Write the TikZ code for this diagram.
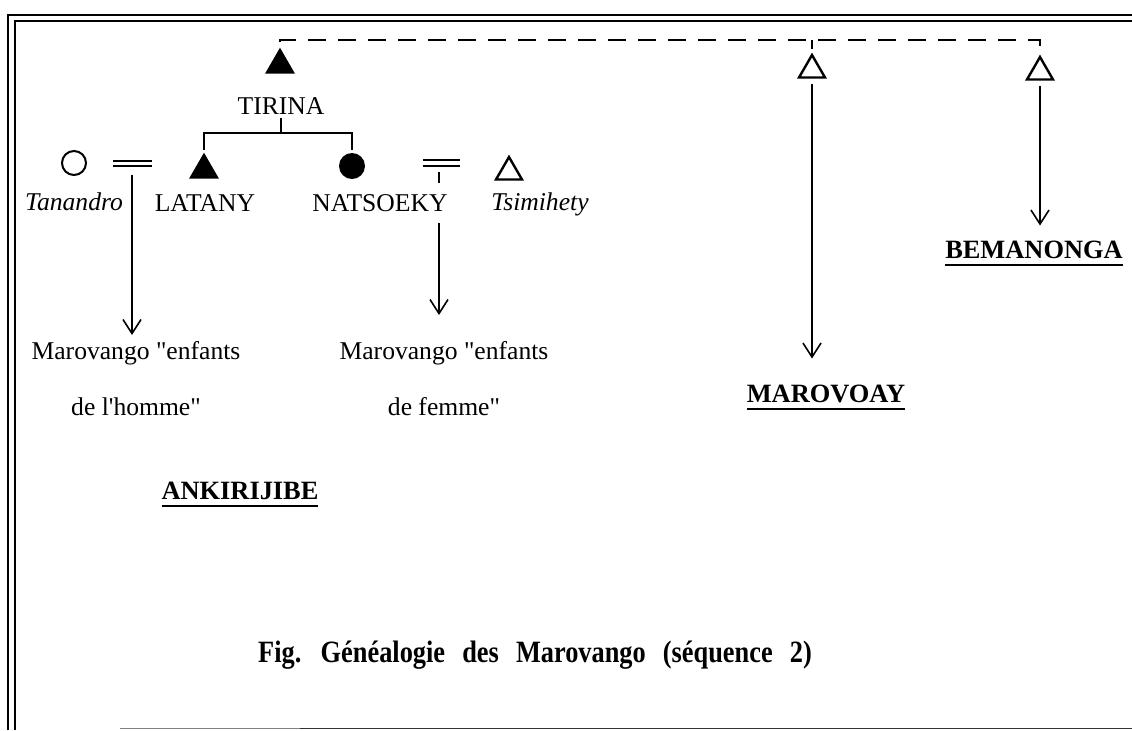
\documentclass[tikz,border=0pt]{standalone}
\usepackage{fontspec}
\setmainfont{Liberation Serif}[Ligatures=TeXOff]
\newfontfamily\capfont[FakeStretch=0.85,WordSpace=2.6]{Liberation Serif}
\usetikzlibrary{shapes.geometric,arrows.meta}

\begin{document}
\begin{tikzpicture}[x=0.5pt,y=-0.5pt,inner sep=0pt,outer sep=0pt,line width=0.9pt,
male/.style={regular polygon,regular polygon sides=3,minimum size=17.3pt,fill=black},
malex/.style={regular polygon,regular polygon sides=3,minimum size=15pt,draw,line width=1.2pt},
female/.style={circle,minimum size=13pt,fill=black},
femalex/.style={circle,minimum size=12pt,draw,line width=1pt},
person/.style={anchor=base,font=\fontsize{12.8}{15}\selectfont},
tribe/.style={anchor=base,font=\fontsize{12.8}{15}\selectfont\itshape},
offspring/.style={anchor=north,align=center,font=\fontsize{12.8}{28}\selectfont},
town/.style={anchor=base,font=\fontsize{13.2}{15}\selectfont\bfseries},
descent/.style={-{Straight Barb[length=7pt,width=9pt,line width=0.8pt]}},
alliance/.style={dash pattern=on 9pt off 6pt,line width=0.7pt}]

\useasboundingbox[fill=white] (0,0) rectangle (1132,730);

% frame
\draw[line width=1.3pt] (8,730) -- (8,15) -- (1132,15);
\draw[line width=1pt] (15,730) -- (15,21) -- (1132,21);
\draw[gray,line width=0.8pt] (120,728.5) -- (300,728.5);
\draw[black!80,line width=0.8pt] (300,728.5) -- (1132,728.5);

\draw (280,65) node[male] (tirS) {};
\draw (281,114) node[person] (tirina) {TIRINA};
\draw (204,170) node[male] (latS) {};
\draw (205,211) node[person] (latany) {LATANY};
\draw (352,166) node[female] (natS) {};
\draw (380,211) node[person] (natsoeky) {NATSOEKY};
\draw (74,163) node[femalex] (tanS) {};
\draw (74,210) node[tribe] (tanandro) {Tanandro};
\draw (509,172) node[malex] (tsiS) {};
\draw (540,210) node[tribe] (tsimihety) {Tsimihety};
\draw (812,70) node[malex] (marS) {};
\draw (1040,72) node[malex] (bemS) {};

\draw (136,341) node[offspring] (sons) {Marovango "enfants\\de l'homme"};
\draw (444,341) node[offspring] (daughters) {Marovango "enfants\\de femme"};
\draw (826,402) node[town] (marovoay) {MAROVOAY};
\draw (1034,258) node[town] (bemanonga) {BEMANONGA};
\draw (240,499) node[town] (ankirijibe) {ANKIRIJIBE};
\draw (535,662) node[anchor=base,font=\capfont\fontsize{15.5}{18}\selectfont\bfseries] (caption) {Fig. Généalogie des Marovango (séquence 2)};

\foreach \p in {marovoay,bemanonga,ankirijibe}
  \draw[line width=1pt] ([yshift=-3.5pt]\p.base west) -- ([yshift=-3.5pt]\p.base east);

% alliances
\coordinate (top) at (0,40);
\draw[alliance] ([yshift=3pt]tirS.north) -- (tirS.north |- top) -- (bemS.north |- top) -- ([yshift=3pt]bemS.north);
\draw[alliance] (marS.north |- top) -- ([yshift=3pt]marS.north);

% siblings
\draw[shorten <=2pt,shorten >=1.5pt] (tirina.south) -- ++(0,19) -| (latS.north);
\draw[shorten <=2pt,shorten >=1.5pt] (tirina.south) -- ++(0,19) -| (natS.north);

% marriages
\draw[line width=0.8pt] (113,161) -- ++(39,0) (113,166) -- ++(39,0);
\draw[line width=0.8pt] (423,160) -- ++(37,0) (423,166) -- ++(37,0);
\coordinate (m1) at (132,175);
\coordinate (m2) at (439,172);
\coordinate (m2b) at (439,223);
\draw (m2) -- ++(0,11);

\draw[descent,shorten >=3pt] (m1) -- (m1 |- sons.north);
\draw[descent,shorten >=13pt] (m2b) -- (m2b |- daughters.north);
\draw[descent,shorten <=3pt,shorten >=13pt] (marS.south) -- (marS.south |- marovoay.north);
\draw[descent,shorten <=3pt,shorten >=7.5pt] (bemS.south) -- (bemS.south |- bemanonga.north);
\end{tikzpicture}
\end{document}
